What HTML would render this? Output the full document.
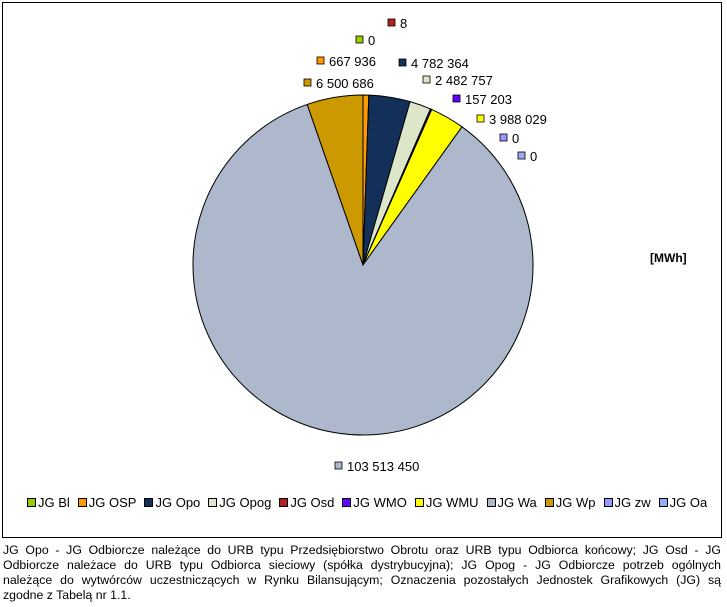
<!DOCTYPE html>
<html><head><meta charset="utf-8"><style>
body{margin:0;width:727px;height:607px;background:#fff;font-family:"Liberation Sans",Arial,sans-serif;position:relative;overflow:hidden}
#frame{position:absolute;left:2px;top:2px;width:718px;height:534px;border:1px solid #000}
#legend{position:absolute;left:27px;top:495px;font-size:13px;white-space:nowrap;display:flex;gap:8px}
.li{display:flex;align-items:center}
.sw{width:7px;height:7px;border:1px solid #000;margin-right:2px}
#caption{position:absolute;left:3px;top:543px;width:718px;font-size:12.3px;line-height:15px;color:#000}
#caption span{display:block;white-space:nowrap;text-align:justify;text-align-last:justify}
#caption span.last{text-align-last:left}
</style></head><body>
<div id="frame"></div>
<svg id="chart" width="727" height="540" style="position:absolute;left:0;top:0"></svg>
<div id="legend"></div>
<div id="caption"><span>JG Opo - JG Odbiorcze należące do URB typu Przedsiębiorstwo Obrotu oraz URB typu Odbiorca końcowy; JG Osd - JG</span><span>Odbiorcze należace do URB typu Odbiorca sieciowy (spółka dystrybucyjna); JG Opog - JG Odbiorcze potrzeb ogólnych</span><span>należące do wytwórców uczestniczących w Rynku Bilansującym; Oznaczenia pozostałych Jednostek Grafikowych (JG) są</span><span class="last">zgodne z Tabelą nr 1.1.</span></div>
<script>
const categories=["JG Bl","JG OSP","JG Opo","JG Opog","JG Osd","JG WMO","JG WMU","JG Wa","JG Wp","JG zw","JG Oa"];
const values=[0,667936,4782364,2482757,8,157203,3988029,103513450,6500686,0,0];
const valueLabels=["0","667 936","4 782 364","2 482 757","8","157 203","3 988 029","103 513 450","6 500 686","0","0"];
const colors=["#99cc00","#ff9900","#12305a","#dde6c8","#b22222","#6600ff","#ffff00","#adb8cc","#cc9900","#9999ff","#99aaee"];
const labelPos=[[356,40],[317,61],[399,63],[423,80],[388,23],[453,99],[477,119],[335,466],[304,83],[500,138],[518,156]];
const NS="http://www.w3.org/2000/svg";
const svg=document.getElementById('chart');
const cx=363,cy=265,r=170;
const total=values.reduce((a,b)=>a+b,0);
let ang=0;
values.forEach((v,i)=>{
  if(v<=0)return;
  const a0=ang,a1=ang+v/total*2*Math.PI;ang=a1;
  const x0=cx+r*Math.sin(a0),y0=cy-r*Math.cos(a0),x1=cx+r*Math.sin(a1),y1=cy-r*Math.cos(a1);
  const p=document.createElementNS(NS,'path');
  p.setAttribute('d',`M${cx},${cy}L${x0},${y0}A${r},${r} 0 ${a1-a0>Math.PI?1:0} 1 ${x1},${y1}Z`);
  p.setAttribute('fill',colors[i]);p.setAttribute('stroke','#000');p.setAttribute('stroke-width','1');
  
  
  svg.appendChild(p);
});
values.forEach((v,i)=>{
  const [lx,ly]=labelPos[i];
  const g=document.createElementNS(NS,'g');
  
  
  const rc=document.createElementNS(NS,'rect');
  rc.setAttribute('x',lx);rc.setAttribute('y',ly-4);rc.setAttribute('width',7);rc.setAttribute('height',7);
  rc.setAttribute('fill',colors[i]);rc.setAttribute('stroke','#000');rc.setAttribute('stroke-width','0.8');
  g.appendChild(rc);
  const t=document.createElementNS(NS,'text');
  t.setAttribute('x',lx+12);t.setAttribute('y',ly+5);t.setAttribute('font-size','13');
  t.setAttribute('font-family','Liberation Sans, Arial, sans-serif');
  t.textContent=valueLabels[i];g.appendChild(t);svg.appendChild(g);
});
const u=document.createElementNS(NS,'text');
u.setAttribute('x',650);u.setAttribute('y',262);u.setAttribute('font-size','12');u.setAttribute('font-weight','bold');
u.setAttribute('font-family','Liberation Sans, Arial, sans-serif');


u.textContent='[MWh]';svg.appendChild(u);
const leg=document.getElementById('legend');
categories.forEach((c,i)=>{
  const d=document.createElement('div');d.className='li';
  
  
  d.innerHTML=`<span class="sw" style="background:${colors[i]}"></span><span>${c}</span>`;
  leg.appendChild(d);
});
</script>
</body></html>
